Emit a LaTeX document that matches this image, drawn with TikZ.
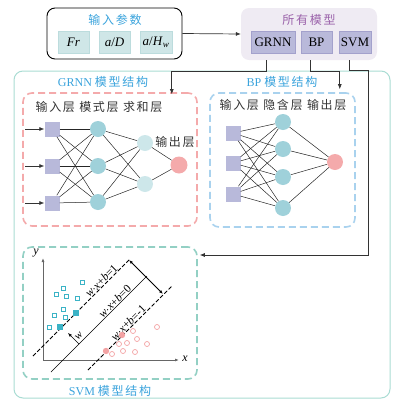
\documentclass[tikz,border=0pt]{standalone}
\usepackage{fontspec}
\setmainfont{Liberation Serif}
\newfontfamily\cjk[LetterSpace=14]{Noto Sans CJK SC}
\usetikzlibrary{arrows.meta}

\definecolor{titleblue}{HTML}{3AA3DC}
\definecolor{titlepurple}{HTML}{9A62AA}
\definecolor{modelbg}{HTML}{EFEBF3}
\definecolor{modelfill}{HTML}{B9B9DA}
\definecolor{modeledge}{HTML}{A3A1CC}
\definecolor{parfill}{HTML}{CFE6E7}
\definecolor{paredge}{HTML}{BCDCDD}
\definecolor{frameteal}{HTML}{A9DCD3}
\definecolor{grnnpink}{HTML}{F4AAAB}
\definecolor{bpblue}{HTML}{A9D2EE}
\definecolor{svmteal}{HTML}{93D0C4}
\definecolor{sqlav}{HTML}{B8B9DA}
\definecolor{pattern}{HTML}{9FD1DA}
\definecolor{summ}{HTML}{CDE7EA}
\definecolor{outpink}{HTML}{F4AAAB}
\definecolor{ptblue}{HTML}{3BB3C6}
\definecolor{ptpink}{HTML}{F3A3A4}

\newcommand{\hyp}[1]{\textit{w}$\cdot$\textit{x}+\textit{b}=#1}

\tikzset{
  titletext/.style={font=\fontsize{12}{14}\selectfont},
  layertext/.style={font=\fontsize{12}{14}\selectfont, text=black!80},
  parbox/.style={fill=parfill, draw=paredge, minimum width=31pt, minimum height=22pt, inner sep=0pt, font=\fontsize{13}{15}\selectfont},
  modbox/.style={fill=modelfill, draw=modeledge, minimum height=22pt, inner sep=0pt, font=\fontsize{13}{15}\selectfont},
  frame/.style={rounded corners=9pt, dashed, dash pattern=on 7pt off 4pt, line width=1.6pt, inner sep=0pt},
  conn/.style={draw=black!80, line width=0.7pt, -{Latex[length=5pt,width=4pt]}},
  insq/.style={fill=sqlav, minimum size=15pt, inner sep=0pt},
  neuron/.style={circle, minimum size=16pt, inner sep=0pt},
  edge/.style={draw=black!85, line width=0.5pt},
  hyplabel/.style={above, sloped, inner sep=0.5pt, font=\fontsize{11.5}{13}\selectfont},
}

\begin{document}
\begin{tikzpicture}[x=1pt, y=-1pt]
\useasboundingbox (0,0) rectangle (392,400);

% outer frame
\draw[frameteal, line width=1pt, rounded corners=9pt] (14,71) rectangle (390,398);

% top row
\node[draw, rounded corners=8pt, line width=0.9pt, minimum width=135pt, minimum height=51pt] (inbox) at (114.5,33.5) {};
\node[fill=modelbg, rounded corners=8pt, minimum width=136pt, minimum height=52pt] (models) at (309,34) {};
\node[titletext, text=titleblue] (intitle) at (115,20) {\cjk 输入参数};
\node[titletext, text=titlepurple] (modtitle) at (309,20) {\cjk 所有模型};

\node[parbox] (Fr) at (73.5,42) {\textit{Fr}};
\node[parbox] (aD) at (114.5,42) {\textit{a}/\textit{D}};
\node[parbox, minimum width=32pt] (aH) at (156,42) {\textit{a}/\textit{H}\textsubscript{\textit{w}}};

\node[modbox, minimum width=44pt] (GRNN) at (273,42) {GRNN};
\node[modbox, minimum width=31pt] (BP) at (316.5,42) {BP};
\node[modbox, minimum width=32pt] (SVM) at (355,42) {SVM};

\draw[conn] (inbox.east) -- (models.west);

% model frames
\node[frame, draw=grnnpink, minimum width=174pt, minimum height=133pt] (grnnbox) at (110,159.5) {};
\node[frame, draw=bpblue, minimum width=145pt, minimum height=134pt] (bpbox) at (282.5,160) {};
\node[frame, draw=svmteal, minimum width=174pt, minimum height=132pt] (svmbox) at (110,313) {};

\node[titletext, text=titleblue] (grnntitle) at (103,82) {GRNN \cjk 模型结构};
\node[titletext, text=titleblue] (bptitle) at (282,82) {BP \cjk 模型结构};
\node[titletext, text=titleblue] (svmtitle) at (110,391) {SVM \cjk 模型结构};

% connectors to frames
\coordinate (svmturn) at (368,255);
\draw[conn] ([xshift=-7pt]GRNN.south |- models.south) -- ++(0,11) -| ([xshift=-26pt,yshift=-2pt]grnnbox.north east);
\draw[conn] ([xshift=-6.5pt]BP.south |- models.south) -- ++(0,11) -| ([xshift=-16pt,yshift=3pt]bpbox.north east);
\draw[conn] ([xshift=-6pt]SVM.south |- models.south) -- ++(0,10) -| (svmturn) -- ([xshift=2pt]svmturn -| svmbox.east);

% GRNN network
\node[layertext] (glab) at (99,107) {\cjk 输入层 模式层 求和层};
\node[layertext] (gout) at (175,142) {\cjk 输出层};
\foreach \i/\y in {1/129,2/166,3/203} {
  \node[insq] (gin\i) at (52,\y) {};
  \coordinate (gsrc\i) at (25,\y);
  \draw[conn, line width=0.6pt] (gsrc\i) -- (gin\i);
}
\foreach \i/\y in {1/129,2/166,3/202}
  \node[neuron, fill=pattern] (gpat\i) at (98,\y) {};
\foreach \i/\y in {1/143,2/184}
  \node[neuron, fill=summ] (gsum\i) at (145,\y) {};
\node[neuron, fill=outpink, minimum size=17pt] (gres) at (179,165) {};
\foreach \i in {1,2,3} {
  \foreach \j in {1,2,3}
    \draw[edge] (gin\i) -- (gpat\j);
  \foreach \j in {1,2}
    \draw[edge] (gpat\i) -- (gsum\j);
}
\foreach \j in {1,2}
  \draw[edge] (gsum\j) -- (gres);

% BP network
\node[layertext] (blab) at (283,105) {\cjk 输入层 隐含层 输出层};
\foreach \i/\y in {1/133,2/163,3/194}
  \node[insq] (bin\i) at (233,\y) {};
\foreach \i/\y in {1/122,2/149,3/177,4/208}
  \node[neuron, fill=pattern] (bhid\i) at (283,\y) {};
\node[neuron, fill=outpink] (bres) at (335,162) {};
\foreach \i in {1,2,3}
  \foreach \j in {1,2,3,4}
    \draw[edge] (bin\i) -- (bhid\j);
\foreach \j in {1,2,3,4}
  \draw[edge] (bhid\j) -- (bres);

% SVM sketch
\coordinate (O) at (43,360);
\coordinate (ytop) at (43,258);
\coordinate (xend) at (179,360);
\draw[black!60, line width=1pt, -{Latex[length=4pt,width=3pt]}] (O) -- (ytop);
\draw[black!60, line width=1pt, -{Latex[length=4pt,width=3pt]}] (O) -- (xend);
\node[font=\fontsize{12}{14}\selectfont\itshape] (ylab) at (36,253) {y};
\node[font=\fontsize{12}{14}\selectfont\itshape] (xlab) at (185,359) {x};

\draw[line width=0.8pt, dashed, dash pattern=on 4pt off 2pt] (33,356) -- (130,259)
  node[pos=0.74, hyplabel] {\hyp{1}};
\draw[line width=0.7pt] (51,372) -- (147,276)
  node[pos=0.70, hyplabel] {\hyp{0}};
\draw[line width=0.8pt, dashed, dash pattern=on 4pt off 2pt] (88,370) -- (172,286)
  node[pos=0.52, hyplabel] {\hyp{-1}};
\draw[line width=0.8pt, {Latex[length=4pt,width=3pt]}-{Latex[length=4pt,width=3pt]}] (129,260) -- (163,294);
\draw[line width=0.6pt, -{Latex[length=4pt,width=3pt]}] (79,344) -- (68,333);
\node[rotate=45, inner sep=0pt, font=\fontsize{11}{13}\selectfont\itshape] (wlab) at (79,336) {w};

\foreach \px/\py in {82/282,63/288,56/294,66/296,77/298,63/309,54/315,65/317,49/327}
  \draw[ptblue, line width=0.7pt] (\px-2,\py-2) rectangle (\px+2,\py+2);
\foreach \px/\py in {76/313,60/327}
  \fill[ptblue] (\px-2.8,\py-2.8) rectangle (\px+2.8,\py+2.8);
\foreach \px/\py in {157/327,133/331,119/344,127/343,137/339,147/344,123/351,135/352,112/354}
  \draw[ptpink, line width=0.7pt] (\px,\py) circle (2.5);
\foreach \px/\py in {122/335,106/351}
  \fill[ptpink] (\px,\py) circle (3.2);

\end{tikzpicture}
\end{document}
